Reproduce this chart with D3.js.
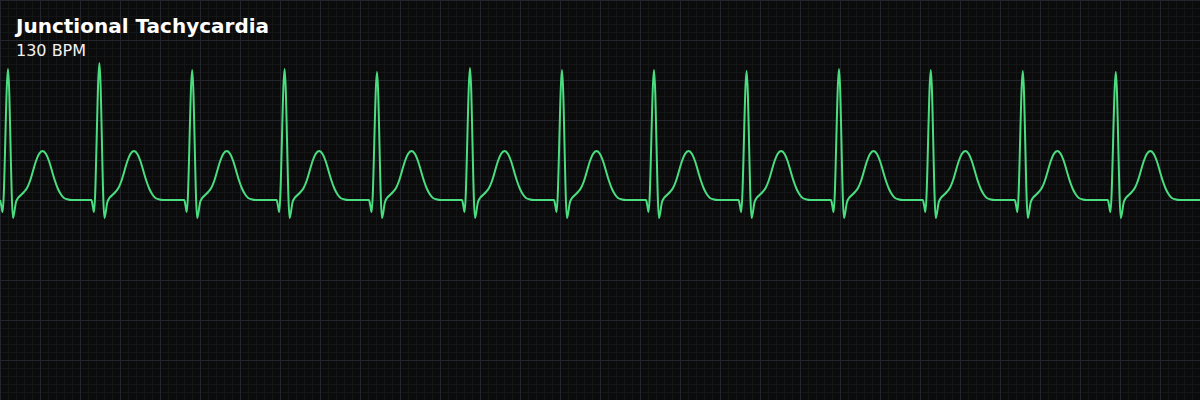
<!DOCTYPE html>
<html>
<head>
<meta charset="utf-8">
<script src="https://cdn.jsdelivr.net/npm/d3@7"></script>
<style>
  html, body { margin: 0; padding: 0; background: #0b0b0c; }
  svg { display: block; }
</style>
</head>
<body>
<svg id="ecg"></svg>
<script>
// rhythm (seconds, mV)
const title = "Junctional Tachycardia";
const rateLabel = "130 BPM";
const stripSeconds = 6;
const rTimes = [0.040, 0.497, 0.961, 1.423, 1.885, 2.350, 2.810, 3.270, 3.733, 4.195, 4.654, 5.114, 5.579];
const rAmps = [1.31, 1.37, 1.30, 1.31, 1.28, 1.32, 1.30, 1.30, 1.29, 1.31, 1.30, 1.29, 1.28];

// one beat, offsets from the R peak (no P wave - junctional)
const beatOffsets = [-0.040, -0.033, -0.027, 0, 0.025, 0.040, 0.050, 0.065, 0.080, 0.095, 0.110, 0.125, 0.140, 0.155, 0.173, 0.190, 0.205, 0.220, 0.235, 0.250, 0.265, 0.280, 0.300, 0.320];
const beatValues  = [0, -0.06, -0.12, null, -0.18, -0.02, 0.02, 0.05, 0.08, 0.12, 0.19, 0.29, 0.39, 0.46, 0.49, 0.46, 0.39, 0.29, 0.19, 0.11, 0.055, 0.02, 0.005, 0];

class EcgStrip {
    constructor(svg, width = 1200, height = 400) {
        this.svg = d3.select(svg);
        this.width = width;
        this.height = height;
    }

    initialize() {
        this.svg.attr("width", this.width).attr("height", this.height);
        this.xScale = d3.scaleLinear().domain([0, stripSeconds]).range([0, this.width]);
        this.yScale = d3.scaleLinear().domain([-2, 2]).range([this.height, 0]);

        this.svg.append("rect")
            .attr("width", this.width)
            .attr("height", this.height)
            .attr("fill", "#0b0b0c");

        this.grid = this.svg.append("g");
        this.container = this.svg.append("g");
        this.labels = this.svg.append("g");

        this.line = d3.line()
            .x(d => this.xScale(d.t))
            .y(d => this.yScale(d.v))
            .curve(d3.curveMonotoneX);
    }

    drawGrid() {
        // small boxes 0.04 s / 0.08 mV, big boxes 0.2 s / 0.4 mV
        const small = d3.range(0, stripSeconds + 0.001, 0.04);
        const smallV = d3.range(-2, 2.001, 0.08);
        const big = d3.range(0, stripSeconds + 0.001, 0.2);
        const bigV = d3.range(-2, 2.001, 0.4);

        const draw = (xs, ys, color) => {
            const g = this.grid.append("g").attr("stroke", color).attr("stroke-width", 1);
            g.selectAll(".vx").data(xs).enter().append("line")
                .attr("x1", d => Math.round(this.xScale(d)) + 0.5)
                .attr("x2", d => Math.round(this.xScale(d)) + 0.5)
                .attr("y1", 0).attr("y2", this.height);
            g.selectAll(".hy").data(ys).enter().append("line")
                .attr("y1", d => Math.round(this.yScale(d)) + 0.5)
                .attr("y2", d => Math.round(this.yScale(d)) + 0.5)
                .attr("x1", 0).attr("x2", this.width);
        };
        draw(small, smallV, "#141516");
        draw(big, bigV, "#22262c");
    }

    update() {
        let points = [{t: 0, v: 0}];
        rTimes.forEach((rt, i) => {
            beatOffsets.forEach((dt, j) => {
                const t = rt + dt;
                if (t < 0 || t > stripSeconds) return;
                points.push({t: t, v: beatValues[j] === null ? rAmps[i] : beatValues[j]});
            });
        });
        points.push({t: stripSeconds, v: 0});
        points = points.filter((d, i) => i === 0 || d.t > points[i - 1].t);

        this.container.append("path")
            .datum(points)
            .attr("fill", "none")
            .attr("stroke", "#4ade80")
            .attr("stroke-width", 2)
            .attr("stroke-linejoin", "round")
            .attr("d", this.line);

        this.labels.append("text")
            .attr("x", 16).attr("y", 33)
            .attr("fill", "#ffffff")
            .style("font-family", "'DejaVu Sans', sans-serif")
            .style("font-weight", "bold")
            .style("font-size", "20px")
            .text(title);

        this.labels.append("text")
            .attr("x", 16).attr("y", 56)
            .attr("fill", "#f2f2f2")
            .style("font-family", "'DejaVu Sans', sans-serif")
            .style("font-size", "16px")
            .text(rateLabel);
    }
}

const strip = new EcgStrip(document.getElementById("ecg"));
strip.initialize();
strip.drawGrid();
strip.update();
</script>
</body>
</html>
